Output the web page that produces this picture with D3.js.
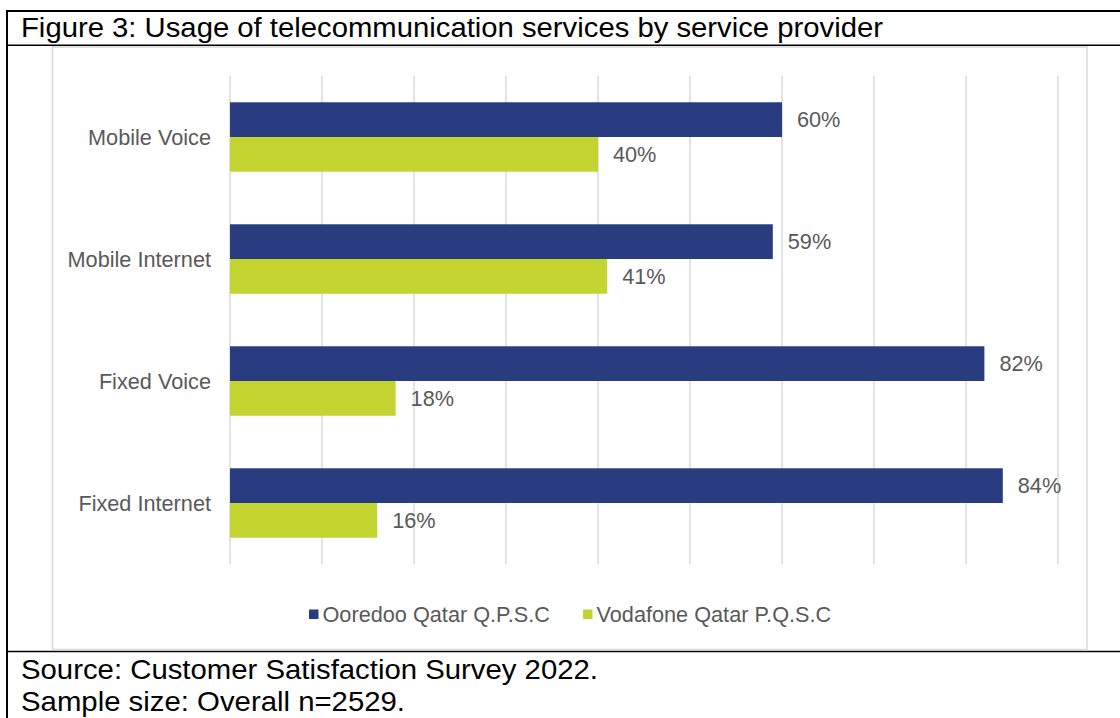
<!DOCTYPE html>
<html><head><meta charset="utf-8">
<script src="https://cdn.jsdelivr.net/npm/d3@7"></script>
<style>html,body{margin:0;padding:0;background:#fff;}svg{display:block;}</style>
</head><body>
<script>
const titleText = "Figure 3: Usage of telecommunication services by service provider";
const sourceText = "Source: Customer Satisfaction Survey 2022.";
const sampleText = "Sample size: Overall n=2529.";
const categories = ["Mobile Voice", "Mobile Internet", "Fixed Voice", "Fixed Internet"];
const seriesNames = ["Ooredoo Qatar Q.P.S.C", "Vodafone Qatar P.Q.S.C"];
const seriesColors = ["#283C7F", "#C3D32F"];
const ooredoo = [60, 59, 82, 84];
const vodafone = [40, 41, 18, 16];
const xTicks = [0, 10, 20, 30, 40, 50, 60, 70, 80, 90];

const W = 1120, H = 718;
const svg = d3.select("body").append("svg").attr("width", W).attr("height", H);
const font = "'Liberation Sans', Arial, sans-serif";

// Outer frame lines
svg.append("line").attr("x1", 6).attr("x2", W).attr("y1", 11).attr("y2", 11).attr("stroke", "#000").attr("stroke-width", 2);
svg.append("line").attr("x1", 7).attr("x2", 7).attr("y1", 10).attr("y2", H).attr("stroke", "#000").attr("stroke-width", 2);
svg.append("line").attr("x1", 6).attr("x2", W).attr("y1", 45.3).attr("y2", 45.3).attr("stroke", "#000").attr("stroke-width", 1.6);
svg.append("line").attr("x1", 6).attr("x2", W).attr("y1", 651.5).attr("y2", 651.5).attr("stroke", "#000").attr("stroke-width", 1.6);

function bigText(t, y, len) {
  svg.append("text").attr("x", 21).attr("y", y).attr("font-family", font).attr("font-size", 27.5)
    .attr("fill", "#000").attr("textLength", len).attr("lengthAdjust", "spacingAndGlyphs").text(t);
}
bigText(titleText, 37, 862);
bigText(sourceText, 679, 577);
bigText(sampleText, 711, 384);

// Chart area box
svg.append("rect").attr("x", 52.5).attr("y", 47).attr("width", 1034.5).attr("height", 602.5)
  .attr("fill", "#fff").attr("stroke", "#D9D9D9").attr("stroke-width", 1.5);

const plot = {left: 230, right: 1058, top: 76, bottom: 564};
const x = d3.scaleLinear().domain([0, 90]).range([plot.left, plot.right]);
const y0 = d3.scaleBand().domain(categories).range([plot.top, plot.bottom]).paddingInner(0.431).paddingOuter(0.2155);
const y1 = d3.scaleBand().domain(seriesNames).range([0, y0.bandwidth()]);

// Gridlines
svg.append("g").selectAll("line").data(xTicks).join("line")
  .attr("x1", d => x(d)).attr("x2", d => x(d))
  .attr("y1", plot.top).attr("y2", plot.bottom)
  .attr("stroke", "#D9D9D9").attr("stroke-width", 1.5);

const data = categories.map((c, i) => ({cat: c, vals: [ooredoo[i], vodafone[i]]}));

const groups = svg.append("g").selectAll("g").data(data).join("g")
  .attr("transform", d => `translate(0,${y0(d.cat)})`);

groups.selectAll("rect").data(d => d.vals.map((v, j) => ({v, s: seriesNames[j], j}))).join("rect")
  .attr("x", x(0)).attr("y", d => y1(d.s))
  .attr("width", d => x(d.v) - x(0)).attr("height", y1.bandwidth())
  .attr("fill", d => seriesColors[d.j]);

const fs = 21.7;
groups.selectAll("text.val").data(d => d.vals.map((v, j) => ({v, s: seriesNames[j], j}))).join("text")
  .attr("class", "val")
  .attr("x", d => x(d.v) + 15).attr("y", d => y1(d.s) + y1.bandwidth() / 2)
  .attr("dy", "0.35em")
  .attr("font-family", font).attr("font-size", fs).attr("fill", "#595959")
  .text(d => d.v + "%");

// Category axis labels
svg.append("g").selectAll("text").data(categories).join("text")
  .attr("x", 211).attr("y", d => y0(d) + y0.bandwidth() / 2)
  .attr("dy", "0.35em").attr("text-anchor", "end")
  .attr("font-family", font).attr("font-size", fs).attr("fill", "#595959")
  .text(d => d);

// Legend
const legendX = [309, 583];
const lg = svg.append("g").selectAll("g").data(seriesNames).join("g")
  .attr("transform", (d, i) => `translate(${legendX[i]},614)`);
lg.append("rect").attr("x", 0).attr("y", -4.5).attr("width", 9.5).attr("height", 9.5).attr("fill", (d, i) => seriesColors[i]);
lg.append("text").attr("x", 13.5).attr("y", 0).attr("dy", "0.35em")
  .attr("font-family", font).attr("font-size", fs).attr("fill", "#595959").text(d => d);
</script>
</body></html>
